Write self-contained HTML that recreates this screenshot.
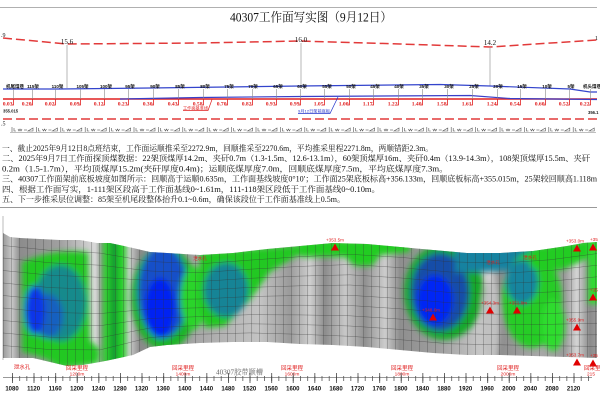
<!DOCTYPE html>
<html><head><meta charset="utf-8">
<style>
html,body{margin:0;padding:0;background:#fff;}
svg{display:block;}
.cn{font-family:"Liberation Serif","Noto Serif CJK SC",serif;}
.sn{font-family:"Liberation Sans","Noto Sans CJK SC",sans-serif;}
</style></head>
<body>
<svg width="600" height="414" viewBox="0 0 600 414" xmlns="http://www.w3.org/2000/svg">
<defs>
  <linearGradient id="gbase" gradientUnits="userSpaceOnUse" x1="3" y1="0" x2="597" y2="0">
    <stop offset="0" stop-color="#9a9a9a"/>
    <stop offset="0.015" stop-color="#c8c8c8"/>
    <stop offset="0.029" stop-color="#8c8c8c"/>
    <stop offset="0.096" stop-color="#a0a0a0"/>
    <stop offset="0.155" stop-color="#d8d8d8"/>
    <stop offset="0.168" stop-color="#909090"/>
    <stop offset="0.212" stop-color="#d0d0d0"/>
    <stop offset="0.231" stop-color="#8a8a8a"/>
    <stop offset="0.332" stop-color="#a8a8a8"/>
    <stop offset="0.433" stop-color="#c4c4c4"/>
    <stop offset="0.483" stop-color="#9a9a9a"/>
    <stop offset="0.517" stop-color="#cfcfcf"/>
    <stop offset="0.542" stop-color="#8c8c8c"/>
    <stop offset="0.576" stop-color="#c8c8c8"/>
    <stop offset="0.609" stop-color="#909090"/>
    <stop offset="0.643" stop-color="#cccccc"/>
    <stop offset="0.668" stop-color="#8e8e8e"/>
    <stop offset="0.736" stop-color="#a0a0a0"/>
    <stop offset="0.820" stop-color="#d0d0d0"/>
    <stop offset="0.837" stop-color="#8e8e8e"/>
    <stop offset="0.904" stop-color="#a8a8a8"/>
    <stop offset="0.946" stop-color="#9a9a9a"/>
    <stop offset="0.966" stop-color="#d4d4d4"/>
    <stop offset="0.988" stop-color="#8a8a8a"/>
    <stop offset="1" stop-color="#9a9a9a"/>
  </linearGradient>
  <clipPath id="surf">
    <path d="M3,233 L10,237 L20,238 L40,239 L60,240 L80,240 L97,243 L110,243 L133,248 L150,252 L167,253 L200,255 L233,253 L267,249 L300,246 L333,243 L367,244 L400,247 L433,250 L467,253 L500,253 L533,251 L567,246 L583,243 L597,242 L597,358 L567,357 L533,356 L500,355 L467,355 L433,353 L400,350 L367,347 L333,345 L300,344 L267,342 L233,342 L200,343 L167,345 L150,347 L133,355 L110,360 L100,362 L83,365 L67,366 L50,362 L33,358 L3,358 Z"/>
  </clipPath>
  <filter id="blur" filterUnits="userSpaceOnUse" x="0" y="200" width="600" height="200">
    <feGaussianBlur stdDeviation="3"/>
  </filter>
  <pattern id="vgrid" patternUnits="userSpaceOnUse" x="3" y="0" width="8" height="414">
    <line x1="0.25" y1="0" x2="0.25" y2="414" stroke="#333" stroke-width="0.5" stroke-opacity="0.55"/>
  </pattern>
  <pattern id="minT" patternUnits="userSpaceOnUse" x="12" y="0" width="7.2" height="414">
    <line x1="0.4" y1="376" x2="0.4" y2="381" stroke="#555" stroke-width="0.8"/>
  </pattern>
  <pattern id="majT" patternUnits="userSpaceOnUse" x="12" y="0" width="21.6" height="414">
    <line x1="0.4" y1="373" x2="0.4" y2="383" stroke="#444" stroke-width="0.8"/>
  </pattern>
  <g id="rs" fill="none" stroke="#555" stroke-width="0.6">
    <path d="M0,127 v5"/>
    <path d="M2,128 v3 h2"/>
    <path d="M6,129 l1,2 l1,-2 l1,2 l1,-2"/>
    <path d="M12,130 h3"/>
    <path d="M16,131 h5 v-3 z"/>
  </g>
</defs>

<rect width="600" height="414" fill="#fff"/>

<line x1="0" y1="7.5" x2="597" y2="7.5" stroke="#b0b0b0" stroke-width="1"/>

<text class="cn" x="230" y="21.5" font-size="12.5" fill="#111" textLength="162" lengthAdjust="spacingAndGlyphs">40307工作面写实图（9月12日）</text>

<polyline points="3,38 67,44 200,43 300,41 400,44 490,47 597,40" fill="none" stroke="#e23a3a" stroke-width="1.5" stroke-dasharray="9 4"/>
<text class="cn" x="1" y="37" font-size="6" fill="#111">.9</text>
<text class="cn" x="595" y="40" font-size="6" fill="#111">1</text>

<line x1="67" y1="45" x2="67" y2="88" stroke="#999" stroke-width="0.7"/>
<line x1="301" y1="43" x2="301" y2="86" stroke="#999" stroke-width="0.7"/>
<line x1="490" y1="47" x2="490" y2="86" stroke="#999" stroke-width="0.7"/>
<text class="cn" x="67" y="44" font-size="7" fill="#111" text-anchor="middle">15.6</text>
<text class="cn" x="301" y="42" font-size="7" fill="#111" text-anchor="middle">16.0</text>
<text class="cn" x="490" y="45" font-size="7" fill="#111" text-anchor="middle">14.2</text>

<polyline points="3,89 60,89 150,88 300,86 440,84.5 490,86 570,89 590,92 597,92" fill="none" stroke="#3344cc" stroke-width="1.2"/>

<line x1="3" y1="99" x2="597" y2="99" stroke="#e02020" stroke-width="1.5"/>
<polyline points="120,99 200,97.5 300,96.5 470,95.5 510,98.5 597,99.5" fill="none" stroke="#3a3fc8" stroke-width="1.2"/>

<g stroke="#888" stroke-width="0.6">
<line x1="13.5" y1="89" x2="13.5" y2="99"/><line x1="32.5" y1="89" x2="32.5" y2="99"/><line x1="55.5" y1="89" x2="55.5" y2="99"/><line x1="80.5" y1="89" x2="80.5" y2="99"/><line x1="104.5" y1="89" x2="104.5" y2="99"/><line x1="128.5" y1="89" x2="128.5" y2="99"/><line x1="153.5" y1="89" x2="153.5" y2="99"/><line x1="178.5" y1="89" x2="178.5" y2="99"/><line x1="203.5" y1="89" x2="203.5" y2="99"/><line x1="227.5" y1="89" x2="227.5" y2="99"/><line x1="252.5" y1="89" x2="252.5" y2="99"/><line x1="276.5" y1="89" x2="276.5" y2="99"/><line x1="300.5" y1="89" x2="300.5" y2="99"/><line x1="324.5" y1="89" x2="324.5" y2="99"/><line x1="349.5" y1="89" x2="349.5" y2="99"/><line x1="373.5" y1="89" x2="373.5" y2="99"/><line x1="398.5" y1="89" x2="398.5" y2="99"/><line x1="422.5" y1="89" x2="422.5" y2="99"/><line x1="447.5" y1="89" x2="447.5" y2="99"/><line x1="472.5" y1="89" x2="472.5" y2="99"/><line x1="497.5" y1="89" x2="497.5" y2="99"/><line x1="520.5" y1="89" x2="520.5" y2="99"/><line x1="545.5" y1="89" x2="545.5" y2="99"/><line x1="569.5" y1="89" x2="569.5" y2="99"/><line x1="590.5" y1="89" x2="590.5" y2="99"/>
</g>
<g stroke="#e02020" stroke-width="0.8" fill="none">
<path d="M13.5,99 V105 h-2"/><path d="M32.5,99 V105 h-2"/><path d="M55.5,99 V105 h-2"/><path d="M80.5,99 V105 h-2"/><path d="M104.5,99 V105 h-2"/><path d="M128.5,99 V105 h-2"/><path d="M153.5,99 V105 h-2"/><path d="M178.5,99 V105 h-2"/><path d="M203.5,99 V105 h-2"/><path d="M227.5,99 V105 h-2"/><path d="M252.5,99 V105 h-2"/><path d="M276.5,99 V105 h-2"/><path d="M300.5,99 V105 h-2"/><path d="M324.5,99 V105 h-2"/><path d="M349.5,99 V105 h-2"/><path d="M373.5,99 V105 h-2"/><path d="M398.5,99 V105 h-2"/><path d="M422.5,99 V105 h-2"/><path d="M447.5,99 V105 h-2"/><path d="M472.5,99 V105 h-2"/><path d="M497.5,99 V105 h-2"/><path d="M520.5,99 V105 h-2"/><path d="M545.5,99 V105 h-2"/><path d="M569.5,99 V105 h-2"/><path d="M590.5,99 V105 h-2"/>
</g>

<g class="sn" font-size="4.5" font-weight="bold" fill="#111" text-anchor="middle">
<text x="15" y="88">机尾煤巷</text><text x="33" y="88">115架</text><text x="57.5" y="88">110架</text><text x="82.5" y="88">105架</text><text x="106" y="88">100架</text><text x="130" y="88">95架</text><text x="155" y="88">90架</text><text x="180" y="88">85架</text><text x="205" y="88">80架</text><text x="229" y="88">75架</text><text x="253" y="88">70架</text><text x="278" y="88">65架</text><text x="302" y="88">60架</text><text x="327" y="88">55架</text><text x="351" y="88">50架</text><text x="375" y="88">45架</text><text x="399" y="88">40架</text><text x="424" y="88">35架</text><text x="449" y="88">30架</text><text x="474" y="88">25架</text><text x="498" y="88">20架</text><text x="522" y="88">15架</text><text x="547" y="88">10架</text><text x="571" y="88">5架</text><text x="592" y="88">机头煤巷</text>
</g>

<g class="cn" font-size="5.6" font-weight="bold" fill="#e02020" text-anchor="end">
<text x="12.5" y="105.5">0.03</text><text x="31.5" y="105.5">0.20</text><text x="54.5" y="105.5">0.02</text><text x="79.5" y="105.5">0.09</text><text x="103.5" y="105.5">0.12</text><text x="127.5" y="105.5">0.23</text><text x="152.5" y="105.5">0.30</text><text x="177.5" y="105.5">0.43</text><text x="202.5" y="105.5">0.58</text><text x="226.5" y="105.5">0.70</text><text x="251.5" y="105.5">0.82</text><text x="275.5" y="105.5">0.93</text><text x="299.5" y="105.5">0.99</text><text x="323.5" y="105.5">1.05</text><text x="348.5" y="105.5">1.00</text><text x="372.5" y="105.5">1.17</text><text x="397.5" y="105.5">1.22</text><text x="421.5" y="105.5">1.40</text><text x="446.5" y="105.5">1.58</text><text x="471.5" y="105.5">1.61</text><text x="496.5" y="105.5">1.24</text><text x="519.5" y="105.5">0.54</text><text x="544.5" y="105.5">0.60</text><text x="568.5" y="105.5">0.52</text><text x="589.5" y="105.5">0.22</text>
</g>

<text class="sn" x="183" y="109.5" font-size="4.2" fill="#e02020" textLength="25" lengthAdjust="spacingAndGlyphs">工作面基准线</text>
<path d="M183,110.5 H208 L212,99.5" fill="none" stroke="#e02020" stroke-width="0.7"/>
<text class="sn" x="298" y="112.5" font-size="4" fill="#2233cc" textLength="32" lengthAdjust="spacingAndGlyphs">9月12日架前底板</text>
<path d="M298,113.5 H330 L338,97" fill="none" stroke="#2233cc" stroke-width="0.7"/>
<text class="sn" x="3" y="112.5" font-size="4.2" font-weight="bold" fill="#222">355.015</text>
<text class="sn" x="588" y="114" font-size="4.2" font-weight="bold" fill="#222">356.1</text>

<polyline points="3,119 597,119" fill="none" stroke="#e23a3a" stroke-width="1.5" stroke-dasharray="9 4"/>
<text class="cn" x="1" y="125.5" font-size="6" fill="#111">.5</text>

<line x1="10" y1="132.5" x2="596" y2="132.5" stroke="#aaa" stroke-width="0.8"/>
<use href="#rs" x="12"/><use href="#rs" x="36.4"/><use href="#rs" x="60.8"/><use href="#rs" x="85.2"/><use href="#rs" x="109.6"/><use href="#rs" x="134"/><use href="#rs" x="158.4"/><use href="#rs" x="182.8"/><use href="#rs" x="207.2"/><use href="#rs" x="231.6"/><use href="#rs" x="256"/><use href="#rs" x="280.4"/><use href="#rs" x="304.8"/><use href="#rs" x="329.2"/><use href="#rs" x="353.6"/><use href="#rs" x="378"/><use href="#rs" x="402.4"/><use href="#rs" x="426.8"/><use href="#rs" x="451.2"/><use href="#rs" x="475.6"/><use href="#rs" x="500"/><use href="#rs" x="524.4"/><use href="#rs" x="548.8"/><use href="#rs" x="573.2"/>

<g class="cn" font-size="8" fill="#111">
<text x="2" y="151" textLength="431" lengthAdjust="spacingAndGlyphs">一、截止2025年9月12日8点班结束，工作面运顺推采至2272.9m，回顺推采至2270.6m，平均推采里程2271.8m，两顺错距2.3m。</text>
<text x="2" y="161.2" textLength="588" lengthAdjust="spacingAndGlyphs">二、2025年9月7日工作面探顶煤数据：22架顶煤厚14.2m、夹矸0.7m（1.3-1.5m、12.6-13.1m），60架顶煤厚16m、夹矸0.4m（13.9-14.3m），108架顶煤厚15.5m、夹矸</text>
<text x="2" y="171.4" textLength="446" lengthAdjust="spacingAndGlyphs">0.2m（1.5-1.7m），平均顶煤厚15.2m(夹矸厚度0.4m)；运顺底煤厚度7.0m，回顺底煤厚度7.5m，平均底煤厚度7.3m。</text>
<text x="2" y="181.6" textLength="595" lengthAdjust="spacingAndGlyphs">三、40307工作面架前底板坡度如图所示：回顺高于运顺0.635m，工作面基线坡度0°10′；工作面25架底板标高+356.133m，回顺底板标高+355.015m，25架较回顺高1.118m</text>
<text x="2" y="191.8" textLength="378" lengthAdjust="spacingAndGlyphs">四、根据工作面写实，1-111架区段高于工作面基线0~1.61m，111-118架区段低于工作面基线0~0.10m。</text>
<text x="2" y="202" textLength="343" lengthAdjust="spacingAndGlyphs">五、下一步推采层位调整：85架至机尾段整体抬升0.1~0.6m，确保该段位于工作面基准线上0.5m。</text>
</g>

<line x1="0" y1="207.5" x2="597" y2="207.5" stroke="#999" stroke-width="1"/>

<line x1="3" y1="216" x2="3" y2="360" stroke="#aaa" stroke-width="0.8"/>
<g clip-path="url(#surf)">
  <rect x="0" y="220" width="600" height="160" fill="url(#gbase)"/>
  <g filter="url(#blur)">
    <path d="M22,262 Q55,248 88,252 L90,340 L100,350 L98,364 L60,368 Q45,356 22,352 Z" fill="#22c822"/>
    <ellipse cx="60" cy="303" rx="26" ry="38" fill="#168a8c"/>
    <ellipse cx="48" cy="316" rx="15" ry="22" fill="#1560c0"/>
    <ellipse cx="35" cy="310" rx="10" ry="24" fill="#0f36e8"/>
    <rect x="103" y="238" width="23" height="130" fill="#28d428"/>
    <rect x="110" y="238" width="8" height="130" fill="#169a32"/>
    <ellipse cx="165" cy="298" rx="34" ry="52" fill="#1fb428"/>
    <ellipse cx="163" cy="292" rx="25" ry="46" fill="#1450c8"/>
    <ellipse cx="160" cy="308" rx="15" ry="30" fill="#0622f2"/>
    <ellipse cx="193" cy="298" rx="13" ry="32" fill="#2cd42c"/>
    <path d="M200,252 L300,245 L300,254 L270,272 L250,300 L225,326 L205,328 L198,300 Z" fill="#24c824"/>
    <ellipse cx="226" cy="290" rx="22" ry="27" fill="#148496"/>
    <path d="M300,240 L410,240 L410,252 L380,255 L372,266 L355,266 L345,257 L300,257 Z" fill="#24cc24"/>
    <ellipse cx="444" cy="292" rx="40" ry="48" fill="#17a82a"/>
    <ellipse cx="440" cy="292" rx="29" ry="39" fill="#124ea8"/>
    <ellipse cx="435" cy="300" rx="18" ry="25" fill="#0628f5"/>
    <path d="M455,248 L560,246 L560,268 L455,273 Z" fill="#1482a0"/>
    <ellipse cx="532" cy="300" rx="30" ry="48" fill="#26cc26"/>
    <ellipse cx="553" cy="325" rx="12" ry="26" fill="#2edc2e"/>
    <ellipse cx="522" cy="282" rx="16" ry="22" fill="#16849e"/>
    <ellipse cx="490" cy="322" rx="9" ry="42" fill="#c0c0c0"/>
    <path d="M530,248 L590,240 L588,258 L562,270 L530,268 Z" fill="#24cc24"/>
    <rect x="588" y="238" width="12" height="66" fill="#2edc2e"/>
  </g>
  <rect x="0" y="220" width="600" height="160" fill="url(#vgrid)"/>
  <g fill="none" stroke="#333" stroke-width="0.5" stroke-opacity="0.55">
    <polyline points="3,245.5 50,250.4 100,253.1 150,261.5 200,263.8 250,260.1 300,256.7 350,254.3 400,257.3 450,261.8 500,263.2 550,259.8 597,253.6"/>
    <polyline points="3,258 50,262.8 100,265.2 150,271 200,272.6 250,269.2 300,266.4 350,264.5 400,267.6 450,272 500,273.4 550,270.5 597,265.2"/>
    <polyline points="3,270.5 50,275.2 100,277.3 150,280.5 200,281.4 250,278.3 300,276.1 350,274.8 400,277.9 450,282.3 500,283.6 550,281.3 597,276.8"/>
    <polyline points="3,283 50,287.6 100,289.4 150,290 200,290.2 250,287.4 300,285.8 350,285 400,288.2 450,292.5 500,293.8 550,292 597,288.4"/>
    <polyline points="3,295.5 50,300 100,301.5 150,299.5 200,299 250,296.5 300,295.5 350,295.3 400,298.5 450,302.8 500,304 550,302.8 597,300"/>
    <polyline points="3,308 50,312.4 100,313.6 150,309 200,307.8 250,305.6 300,305.2 350,305.5 400,308.8 450,313 500,314.2 550,313.5 597,311.6"/>
    <polyline points="3,320.5 50,324.8 100,325.7 150,318.5 200,316.6 250,314.7 300,314.9 350,315.8 400,319.1 450,323.3 500,324.4 550,324.3 597,323.2"/>
    <polyline points="3,333 50,337.2 100,337.8 150,328 200,325.4 250,323.8 300,324.6 350,326 400,329.4 450,333.5 500,334.6 550,335 597,334.8"/>
    <polyline points="3,345.5 50,349.6 100,349.9 150,337.5 200,334.2 250,332.9 300,334.3 350,336.3 400,339.7 450,343.8 500,344.8 550,345.8 597,346.4"/>
  </g>
</g>

<g class="sn" font-size="4.5" fill="#e02020" text-anchor="middle">
  <text x="200" y="260">泄水孔</text>
  <text x="493" y="264">泄水孔</text>
  <text x="530" y="259">泄水孔</text>
</g>

<g fill="#e00000">
  <polygon points="331,250.5 339,250.5 335,243.5"/>
  <polygon points="429,320.5 437,320.5 433,313.5"/>
  <polygon points="486,313.5 494,313.5 490,306.5"/>
  <polygon points="513,313.5 521,313.5 517,306.5"/>
  <polygon points="573,251.5 581,251.5 577,244.5"/>
  <polygon points="589,250.5 597,250.5 593,243.5"/>
  <polygon points="589,300.5 597,300.5 593,293.5"/>
  <polygon points="573,330.5 581,330.5 577,323.5"/>
  <polygon points="573,365.5 581,365.5 577,358.5"/>
  <polygon points="589,366.5 597,366.5 593,359.5"/>
</g>
<g class="sn" font-size="4.6" fill="#e02020" text-anchor="middle">
  <text x="335" y="241.5">+353.5m</text>
  <text x="431" y="311.5">+348.6m</text>
  <text x="490" y="304.5">+354.3m</text>
  <text x="518" y="304.5">+351.8m</text>
  <text x="575" y="242.5">+353.0m</text>
  <text x="575" y="321.5">+355.9m</text>
  <text x="575" y="356.5">+353.7m</text>
</g>
<g class="sn" font-size="4.6" fill="#e02020">
  <text x="590" y="241">+35</text>
  <text x="590" y="291.5">+35</text>
  <text x="590" y="357">+35</text>
</g>

<g class="sn" font-size="5.5" fill="#e02020" text-anchor="middle">
  <text x="22" y="369">泄水孔</text>
  <text x="77" y="370">回采里程</text><text x="77" y="375.5" font-size="4.8">1200m</text>
  <text x="183" y="370">回采里程</text><text x="183" y="375.5" font-size="4.8">1400m</text>
  <text x="292" y="370">回采里程</text><text x="292" y="375.5" font-size="4.8">1600m</text>
  <text x="402" y="370">回采里程</text><text x="402" y="375.5" font-size="4.8">1800m</text>
  <text x="508" y="370">回采里程</text><text x="508" y="375.5" font-size="4.8">2000m</text>
</g>
<g class="sn" font-size="5.5" fill="#e02020">
  <text x="584" y="370">回采里</text><text x="587" y="375.5" font-size="4.8">215</text>
</g>
<text class="cn" x="216" y="374.5" font-size="7.2" fill="#666" textLength="47" lengthAdjust="spacingAndGlyphs">40307胶带顺槽</text>

<line x1="3" y1="377.5" x2="592" y2="377.5" stroke="#777" stroke-width="0.7"/>
<rect x="12" y="372" width="580" height="12" fill="url(#minT)"/>
<rect x="12" y="372" width="580" height="12" fill="url(#majT)"/>
<g class="sn" font-size="6" font-weight="bold" fill="#111" text-anchor="middle">
<text x="12" y="390.5">1080</text><text x="33.6" y="390.5">1120</text><text x="55.2" y="390.5">1160</text><text x="76.8" y="390.5">1200</text><text x="98.4" y="390.5">1240</text><text x="120" y="390.5">1280</text><text x="141.6" y="390.5">1320</text><text x="163.2" y="390.5">1360</text><text x="184.8" y="390.5">1400</text><text x="206.4" y="390.5">1440</text><text x="228" y="390.5">1480</text><text x="249.6" y="390.5">1520</text><text x="271.2" y="390.5">1560</text><text x="292.8" y="390.5">1600</text><text x="314.4" y="390.5">1640</text><text x="336" y="390.5">1680</text><text x="357.6" y="390.5">1720</text><text x="379.2" y="390.5">1760</text><text x="400.8" y="390.5">1800</text><text x="422.4" y="390.5">1840</text><text x="444" y="390.5">1880</text><text x="465.6" y="390.5">1920</text><text x="487.2" y="390.5">1960</text><text x="508.8" y="390.5">2000</text><text x="530.4" y="390.5">2040</text><text x="552" y="390.5">2080</text><text x="573.6" y="390.5">2120</text>
</g>
</svg>
</body></html>
